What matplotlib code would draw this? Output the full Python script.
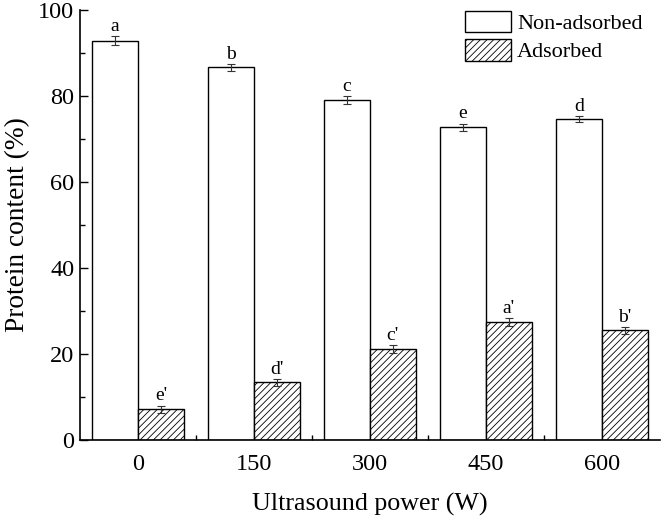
import matplotlib
matplotlib.use("Agg")
import matplotlib.pyplot as plt
import numpy as np
from matplotlib.ticker import MultipleLocator, FixedLocator

plt.rcParams['font.family'] = ['Liberation Serif', 'DejaVu Serif']
plt.rcParams['hatch.linewidth'] = 0.6
plt.rcParams['hatch.color'] = '#333333'

categories = ['0', '150', '300', '450', '600']
non_adsorbed = [92.9, 86.7, 79.1, 72.7, 74.6]
non_adsorbed_err = [1.0, 0.8, 0.9, 0.9, 0.7]
adsorbed = [7.1, 13.4, 21.1, 27.4, 25.5]
adsorbed_err = [0.9, 0.8, 0.9, 0.9, 0.8]
letters_non = ['a', 'b', 'c', 'e', 'd']
letters_ads = ["e'", "d'", "c'", "a'", "b'"]

fig = plt.figure(figsize=(6.61, 5.18), dpi=100)
ax = fig.add_axes([0.121, 0.1506, 0.877, 0.830])

x = np.arange(len(categories))
w = 0.397
ax.bar(x - w/2, non_adsorbed, w, color='white', edgecolor='black', linewidth=1.0,
       yerr=non_adsorbed_err, error_kw=dict(ecolor='#333333', elinewidth=0.8, capsize=3, capthick=0.8),
       label='Non-adsorbed')
ax.bar(x + w/2, adsorbed, w, color='white', edgecolor='black', linewidth=1.0, hatch='/////',
       yerr=adsorbed_err, error_kw=dict(ecolor='#333333', elinewidth=0.8, capsize=3, capthick=0.8),
       label='Adsorbed')

for i in range(len(categories)):
    ax.text(x[i] - w/2, non_adsorbed[i] + non_adsorbed_err[i] + 1.2, letters_non[i],
            ha='center', va='baseline', fontsize=14)
    ax.text(x[i] + w/2, adsorbed[i] + adsorbed_err[i] + 1.2, letters_ads[i],
            ha='center', va='baseline', fontsize=14)

ax.set_xlim(-0.5, 4.5)
ax.set_ylim(0, 100)
ax.set_xticks(x)
ax.set_xticklabels(categories)
ax.xaxis.set_minor_locator(FixedLocator([0.5, 1.5, 2.5, 3.5]))
ax.yaxis.set_major_locator(MultipleLocator(20))
ax.yaxis.set_minor_locator(MultipleLocator(10))
ax.tick_params(axis='both', which='major', direction='in', length=6, width=1.0, labelsize=17.5)
ax.tick_params(axis='both', which='minor', direction='in', length=3.5, width=1.0)
ax.tick_params(axis='x', which='major', length=0, pad=10)
ax.tick_params(axis='y', which='major', pad=4)
for s in ['top', 'right']:
    ax.spines[s].set_visible(False)
for s in ['left', 'bottom']:
    ax.spines[s].set_linewidth(1.2)

ax.set_xlabel('Ultrasound power (W)', fontsize=18.7, labelpad=13)
ax.set_ylabel('Protein content (%)', fontsize=19.7, labelpad=6)

fig.legend(loc='upper left', bbox_to_anchor=(0.7035, 0.9785), frameon=False, fontsize=16,
           handlelength=2.05, handleheight=1.1, handletextpad=0.3, labelspacing=0.22,
           borderaxespad=0, borderpad=0)

fig.savefig('out.png', dpi=100)
